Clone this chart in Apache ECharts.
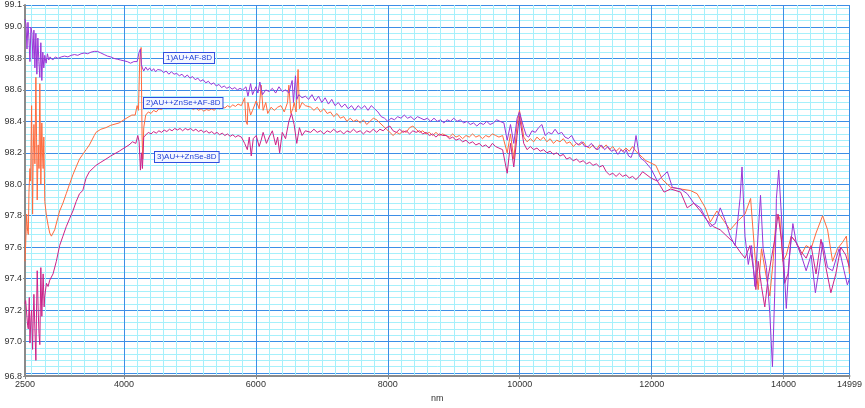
<!DOCTYPE html>
<html>
<head>
<meta charset="utf-8">
<script src="https://cdn.jsdelivr.net/npm/echarts@6/dist/echarts.min.js"></script>
<style>html,body{margin:0;padding:0;background:#fff;}#c{width:865px;height:408px;}</style>
</head>
<body>
<div id="c"></div>
<script>
// Series 1: 1)AU+AF-8D (purple) — [wavenumber, value]
const s1 = [
[2500,99.05],[2515,99.02],[2530,98.86],[2545,99.03],[2560,98.92],[2575,98.78],[2590,99.00],[2605,98.96],[2620,98.80],[2635,98.98],[2650,98.74],[2665,98.96],[2680,98.70],[2695,98.93],[2710,98.78],[2725,98.68],[2740,98.90],[2755,98.66],[2770,98.84],[2785,98.74],[2800,98.82],[2820,98.77],[2840,98.83],[2860,98.79],[2880,98.81],[2920,98.79],[2960,98.81],[3000,98.80],[3050,98.81],[3100,98.815],[3150,98.81],[3200,98.82],[3250,98.825],[3300,98.82],[3350,98.83],[3400,98.835],[3450,98.83],[3500,98.84],[3550,98.845],[3600,98.845],[3650,98.835],[3700,98.825],[3750,98.815],[3800,98.81],[3850,98.80],[3900,98.795],[3950,98.79],[4000,98.785],[4050,98.78],[4100,98.77],[4150,98.78],[4200,98.78],[4230,98.84],[4250,98.86],[4265,98.76],[4280,98.74],
[4300,98.72],[4330,98.745],[4360,98.725],[4390,98.74],[4420,98.72],[4450,98.735],[4480,98.715],[4510,98.73],[4540,98.72],[4570,98.725],[4600,98.71],[4640,98.72],[4680,98.70],[4720,98.715],[4760,98.70],[4800,98.705],[4840,98.69],[4880,98.70],[4920,98.68],[4960,98.695],[5000,98.675],[5040,98.685],[5080,98.665],[5120,98.675],[5160,98.655],[5200,98.665],[5240,98.645],[5280,98.655],[5320,98.635],[5360,98.645],[5400,98.625],[5440,98.635],[5480,98.615],[5520,98.625],[5560,98.61],[5600,98.62],[5640,98.605],[5680,98.615],[5720,98.60],[5760,98.61],[5800,98.60],
[5850,98.62],[5880,98.56],[5920,98.64],[5950,98.57],[6000,98.62],[6030,98.58],[6060,98.65],[6100,98.57],[6150,98.60],[6200,98.59],[6250,98.61],[6300,98.58],[6350,98.62],[6400,98.59],[6450,98.60],[6500,98.58],[6550,98.66],[6570,98.52],[6600,98.69],[6620,98.54],[6650,98.57],[6700,98.55],[6750,98.56],
[6800,98.54],[6850,98.57],[6900,98.53],[6950,98.56],[7000,98.52],[7050,98.55],[7100,98.51],[7150,98.54],[7200,98.50],[7250,98.52],[7300,98.49],[7350,98.51],[7400,98.48],[7450,98.50],[7500,98.47],[7550,98.50],[7600,98.48],[7650,98.50],[7700,98.47],[7750,98.50],[7800,98.48],[7850,98.46],[7900,98.43],[7950,98.42],[8000,98.40],[8050,98.42],[8100,98.41],[8150,98.43],[8200,98.42],[8250,98.44],[8300,98.42],[8350,98.43],[8400,98.41],[8450,98.43],[8500,98.42],[8550,98.41],[8600,98.42],[8650,98.40],[8700,98.42],[8750,98.40],[8800,98.41],[8850,98.39],[8900,98.41],[8950,98.40],[9000,98.42],[9050,98.40],[9100,98.41],[9150,98.39],[9200,98.40],[9250,98.38],[9300,98.39],[9350,98.37],[9400,98.39],[9450,98.38],[9500,98.40],[9550,98.38],[9600,98.39],[9650,98.41],[9700,98.40],[9760,98.39],
[9810,98.28],[9860,98.38],[9910,98.26],[9960,98.42],[9996,98.46],
[10061,98.36],[10100,98.31],[10136,98.30],[10186,98.34],[10236,98.33],[10286,98.36],[10336,98.38],[10386,98.31],[10436,98.33],[10486,98.32],[10536,98.35],[10586,98.32],[10636,98.33],[10686,98.30],[10736,98.29],[10786,98.31],[10837,98.27],[10887,98.25],[10937,98.27],[10987,98.24],[11037,98.24],[11087,98.26],[11137,98.23],[11187,98.22],[11237,98.25],[11287,98.22],[11337,98.24],[11388,98.21],[11438,98.22],[11488,98.19],[11538,98.22],[11588,98.20],[11613,98.22],[11650,98.18],[11688,98.17],[11730,98.22],[11763,98.31],[11813,98.18],[11850,98.16],[11888,98.15],
[11988,98.10],[12088,98.02],[12238,98.08],[12314,97.98],[12439,97.97],[12539,97.94],[12639,97.88],[12739,97.85],[12814,97.79],[12889,97.73],[12964,97.75],[13040,97.85],[13115,97.77],[13190,97.67],[13265,97.61],[13340,97.91],[13370,98.11],[13415,97.67],[13465,97.49],[13515,97.61],[13565,97.35],[13615,97.69],[13650,97.93],[13690,97.59],[13740,97.47],[13791,97.18],[13831,96.84],[13866,97.31],[13891,97.91],[13926,98.09],[13966,97.81],[14016,97.41],[14041,97.21],[14091,97.55],[14141,97.75],[14191,97.63],[14266,97.55],[14342,97.45],[14417,97.55],[14482,97.31],[14542,97.47],[14592,97.63],[14667,97.47],[14742,97.45],[14842,97.59],[14917,97.45],[14967,97.36],[14999,97.40]
];

// Series 2: 2)AU++ZnSe+AF-8D (orange)
const s2 = [
[2500,97.51],[2510,97.62],[2525,97.81],[2540,97.70],[2550,97.68],[2560,97.95],[2575,98.10],[2585,98.02],[2600,98.50],[2615,97.81],[2625,98.20],[2635,98.38],[2650,98.13],[2665,98.68],[2675,98.30],[2685,97.90],[2700,98.25],[2712,98.10],[2725,98.64],[2740,98.00],[2755,98.39],[2765,98.20],[2775,98.10],[2785,98.30],[2800,97.89],[2825,97.80],[2850,97.74],[2875,97.69],[2900,97.67],[2925,97.68],[2950,97.71],[3000,97.79],[3025,97.83],[3075,97.88],[3125,97.94],[3175,98.00],[3226,98.06],[3275,98.11],[3326,98.16],[3376,98.19],[3426,98.22],[3476,98.25],[3501,98.26],[3550,98.31],[3576,98.33],[3650,98.35],[3727,98.36],[3800,98.375],[3927,98.39],[4000,98.41],[4077,98.43],[4120,98.44],[4170,98.44],[4200,98.50],[4220,98.47],[4240,98.80],[4260,98.87],[4275,98.30],[4285,98.16],[4300,98.36],
[4330,98.44],[4370,98.46],[4410,98.45],[4450,98.47],[4490,98.46],[4530,98.48],[4570,98.475],[4610,98.49],[4650,98.48],[4690,98.50],[4730,98.49],[4770,98.505],[4810,98.49],[4850,98.50],[4890,98.485],[4930,98.495],[4970,98.48],[5010,98.49],[5050,98.475],[5090,98.485],[5130,98.47],[5170,98.48],[5210,98.465],[5250,98.475],[5290,98.47],[5330,98.48],[5370,98.47],[5410,98.49],[5450,98.48],[5490,98.495],[5530,98.485],[5570,98.50],[5610,98.49],[5650,98.505],[5690,98.495],[5730,98.51],[5780,98.50],
[5830,98.55],[5850,98.40],[5870,98.38],[5880,98.52],[5920,98.44],[5950,98.47],[6005,98.53],[6050,98.48],[6080,98.63],[6110,98.47],[6150,98.52],[6180,98.45],[6230,98.49],[6280,98.47],[6330,98.49],[6380,98.50],[6430,98.46],[6480,98.52],[6500,98.63],[6530,98.45],[6560,98.48],[6580,98.52],[6610,98.46],[6640,98.73],[6660,98.48],[6700,98.52],[6750,98.50],
[6831,98.49],[6880,98.47],[6930,98.49],[6980,98.46],[7030,98.48],[7081,98.45],[7130,98.46],[7180,98.43],[7230,98.45],[7280,98.42],[7332,98.43],[7380,98.40],[7430,98.42],[7480,98.40],[7530,98.41],[7582,98.39],[7630,98.41],[7680,98.38],[7730,98.40],[7780,98.42],[7832,98.41],[7880,98.39],[7930,98.37],[7980,98.35],[8032,98.33],[8080,98.31],[8130,98.33],[8180,98.32],[8230,98.34],[8280,98.33],[8330,98.36],[8380,98.37],[8430,98.35],[8480,98.33],[8530,98.34],[8580,98.32],[8630,98.33],[8680,98.31],[8730,98.33],[8780,98.31],[8830,98.32],[8884,98.31],[8934,98.30],[8984,98.32],[9034,98.30],[9084,98.31],[9134,98.29],[9185,98.31],[9235,98.30],[9285,98.32],[9335,98.30],[9385,98.31],[9435,98.29],[9485,98.31],[9535,98.30],[9585,98.32],[9635,98.31],[9685,98.30],[9740,98.31],
[9810,98.20],[9860,98.32],[9910,98.16],[9960,98.38],[9996,98.47],
[10061,98.30],[10111,98.27],[10161,98.29],[10211,98.27],[10261,98.30],[10311,98.28],[10361,98.30],[10411,98.27],[10461,98.29],[10511,98.26],[10561,98.28],[10611,98.27],[10661,98.29],[10711,98.26],[10761,98.27],[10811,98.24],[10861,98.26],[10911,98.25],[10961,98.27],[11011,98.24],[11061,98.23],[11111,98.25],[11161,98.22],[11211,98.25],[11261,98.23],[11311,98.25],[11361,98.22],[11411,98.24],[11461,98.21],[11511,98.23],[11561,98.21],[11611,98.23],[11661,98.21],[11711,98.24],[11761,98.21],[11811,98.19],[11863,98.17],[11913,98.15],
[11963,98.14],[12063,98.12],[12163,98.03],[12289,97.98],[12439,97.97],[12589,97.96],[12689,97.94],[12814,97.85],[12889,97.76],[12989,97.83],[13090,97.77],[13190,97.71],[13315,97.77],[13415,97.81],[13500,97.91],[13565,97.55],[13615,97.33],[13665,97.59],[13730,97.43],[13791,97.29],[13841,97.51],[13891,97.81],[13941,97.79],[13991,97.51],[14041,97.55],[14116,97.67],[14191,97.63],[14266,97.55],[14342,97.61],[14417,97.59],[14492,97.69],[14592,97.80],[14667,97.71],[14742,97.51],[14817,97.59],[14892,97.63],[14952,97.67],[14999,97.43]
];

// Series 3: 3)AU++ZnSe-8D (magenta)
const s3 = [
[2500,97.24],[2510,97.26],[2525,97.25],[2540,97.10],[2550,97.08],[2565,97.28],[2575,96.99],[2590,97.15],[2600,97.20],[2615,96.95],[2625,97.15],[2635,97.30],[2650,97.08],[2665,96.88],[2675,97.20],[2685,97.45],[2700,97.20],[2712,97.05],[2725,96.98],[2740,97.47],[2755,97.16],[2775,97.43],[2790,97.22],[2800,97.29],[2825,97.37],[2850,97.35],[2875,97.39],[2925,97.43],[2975,97.51],[3025,97.61],[3075,97.67],[3125,97.73],[3175,97.78],[3226,97.83],[3276,97.89],[3326,97.94],[3376,97.96],[3426,98.04],[3476,98.08],[3576,98.12],[3650,98.14],[3727,98.16],[3800,98.18],[3927,98.21],[4000,98.23],[4077,98.25],[4130,98.27],[4180,98.26],[4210,98.31],[4230,98.27],[4250,98.09],[4265,98.20],[4280,98.10],[4300,98.30],
[4330,98.31],[4370,98.33],[4410,98.32],[4450,98.335],[4490,98.325],[4530,98.34],[4570,98.33],[4610,98.345],[4650,98.335],[4690,98.35],[4730,98.34],[4770,98.355],[4810,98.345],[4850,98.355],[4890,98.34],[4930,98.355],[4970,98.345],[5010,98.355],[5050,98.34],[5090,98.35],[5130,98.335],[5170,98.345],[5210,98.33],[5250,98.34],[5290,98.325],[5330,98.335],[5370,98.32],[5410,98.33],[5450,98.315],[5490,98.325],[5530,98.31],[5570,98.32],[5610,98.305],[5650,98.315],[5690,98.30],[5730,98.31],[5780,98.30],
[5830,98.26],[5870,98.22],[5900,98.30],[5930,98.18],[5960,98.29],[6005,98.31],[6050,98.24],[6080,98.28],[6110,98.33],[6160,98.26],[6200,98.30],[6250,98.34],[6300,98.25],[6330,98.30],[6360,98.20],[6400,98.33],[6450,98.29],[6500,98.40],[6540,98.45],[6580,98.38],[6620,98.26],[6660,98.36],[6700,98.31],[6750,98.34],
[6831,98.33],[6880,98.35],[6930,98.33],[6980,98.34],[7030,98.32],[7081,98.34],[7130,98.33],[7180,98.35],[7230,98.33],[7280,98.34],[7332,98.32],[7380,98.34],[7430,98.33],[7480,98.35],[7530,98.33],[7582,98.34],[7630,98.32],[7680,98.34],[7730,98.33],[7780,98.35],[7832,98.33],[7880,98.35],[7930,98.34],[7980,98.36],[8032,98.37],[8080,98.34],[8130,98.33],[8180,98.35],[8230,98.33],[8280,98.34],[8330,98.32],[8380,98.34],[8430,98.33],[8480,98.34],[8530,98.32],[8580,98.33],[8630,98.31],[8680,98.32],[8730,98.30],[8780,98.32],[8830,98.31],[8884,98.31],[8934,98.29],[8984,98.30],[9034,98.28],[9084,98.29],[9134,98.27],[9185,98.28],[9235,98.26],[9285,98.27],[9335,98.25],[9385,98.26],[9435,98.24],[9485,98.25],[9535,98.23],[9585,98.26],[9635,98.24],[9685,98.23],[9740,98.22],
[9810,98.07],[9860,98.26],[9910,98.11],[9960,98.31],[9996,98.43],
[10061,98.26],[10111,98.22],[10161,98.24],[10211,98.22],[10261,98.23],[10311,98.21],[10361,98.22],[10411,98.20],[10461,98.21],[10511,98.19],[10561,98.20],[10611,98.18],[10661,98.19],[10711,98.16],[10761,98.17],[10811,98.15],[10861,98.16],[10911,98.14],[10961,98.15],[11011,98.13],[11061,98.14],[11111,98.12],[11161,98.13],[11211,98.11],[11261,98.12],[11311,98.08],[11361,98.06],[11411,98.07],[11461,98.05],[11511,98.07],[11561,98.05],[11611,98.06],[11661,98.04],[11711,98.05],[11761,98.03],[11811,98.05],[11863,98.08],
[11988,98.04],[12088,98.02],[12188,97.95],[12289,97.97],[12439,97.95],[12539,97.85],[12639,97.88],[12739,97.83],[12839,97.77],[12939,97.73],[13040,97.71],[13140,97.67],[13240,97.63],[13340,97.57],[13415,97.53],[13490,97.61],[13540,97.47],[13580,97.33],[13615,97.51],[13665,97.35],[13715,97.22],[13766,97.41],[13816,97.53],[13866,97.65],[13916,97.81],[13966,97.65],[14016,97.37],[14066,97.43],[14116,97.67],[14191,97.63],[14266,97.57],[14342,97.53],[14417,97.61],[14492,97.43],[14567,97.65],[14642,97.47],[14717,97.31],[14792,97.43],[14867,97.60],[14942,97.55],[14999,97.47]
];

const seriesNames = ['1)AU+AF-8D', '2)AU++ZnSe+AF-8D', '3)AU++ZnSe-8D'];
const xMin = 2500, xMax = 14999;
const yMin = 96.78, yMax = 99.14;

const chart = echarts.init(document.getElementById('c'), null, {renderer: 'canvas'});
const lab = {fontFamily: 'Liberation Sans', fontSize: 9, color: '#333'};
const boxStyle = {fill: '#1f3fd8', font: '8px "Liberation Sans"', backgroundColor: '#f4f6ff',
  borderColor: '#2f4fe0', borderWidth: 1, padding: [1, 2]};
chart.setOption({
  animation: false,
  backgroundColor: '#ffffff',
  grid: {left: 25, right: 8, top: 5, bottom: 18},
  xAxis: {
    type: 'value', min: xMin, max: xMax, splitNumber: 5,
    name: 'nm', nameLocation: 'middle', nameGap: 13,
    nameTextStyle: {fontFamily: 'Liberation Sans', fontSize: 9, color: '#333'},
    axisLine: {show: true, onZero: false, lineStyle: {color: '#8a8a8a', width: 2}},
    axisTick: {show: true, length: 3, lineStyle: {color: '#8a8a8a'}},
    axisLabel: Object.assign({showMinLabel: true, showMaxLabel: true, margin: 4,
      formatter: v => String(Math.round(v))}, lab),
    splitLine: {show: true, lineStyle: {color: '#3d8ee6', width: 1}},
    minorTick: {show: false, splitNumber: 10},
    minorSplitLine: {show: true, lineStyle: {color: '#a6f0fb', width: 1}}
  },
  yAxis: {
    type: 'value', min: yMin, max: yMax, splitNumber: 10,
    axisLine: {show: true, onZero: false, lineStyle: {color: '#8a8a8a', width: 2}},
    axisTick: {show: true, length: 2, lineStyle: {color: '#8a8a8a'}},
    axisLabel: Object.assign({showMinLabel: true, showMaxLabel: true, margin: 3,
      formatter: v => v.toFixed(1)}, lab),
    splitLine: {show: true, lineStyle: {color: '#3d8ee6', width: 1}},
    minorTick: {show: false, splitNumber: 5},
    minorSplitLine: {show: true, lineStyle: {color: '#a6f0fb', width: 1}}
  },
  series: [
    {name: seriesNames[1], type: 'line', data: s2, showSymbol: false, symbol: 'none',
      lineStyle: {color: '#ff6a3d', width: 1}, z: 2},
    {name: seriesNames[2], type: 'line', data: s3, showSymbol: false, symbol: 'none',
      lineStyle: {color: '#cc2288', width: 1}, z: 3},
    {name: seriesNames[0], type: 'line', data: s1, showSymbol: false, symbol: 'none',
      lineStyle: {color: '#9a35d6', width: 1}, z: 4}
  ],
  graphic: [
    {type: 'text', left: 163, top: 52, z: 100, style: Object.assign({text: seriesNames[0]}, boxStyle)},
    {type: 'text', left: 143, top: 97, z: 100, style: Object.assign({text: seriesNames[1]}, boxStyle)},
    {type: 'text', left: 154, top: 151, z: 100, style: Object.assign({text: seriesNames[2]}, boxStyle)}
  ]
});
</script>
</body>
</html>
